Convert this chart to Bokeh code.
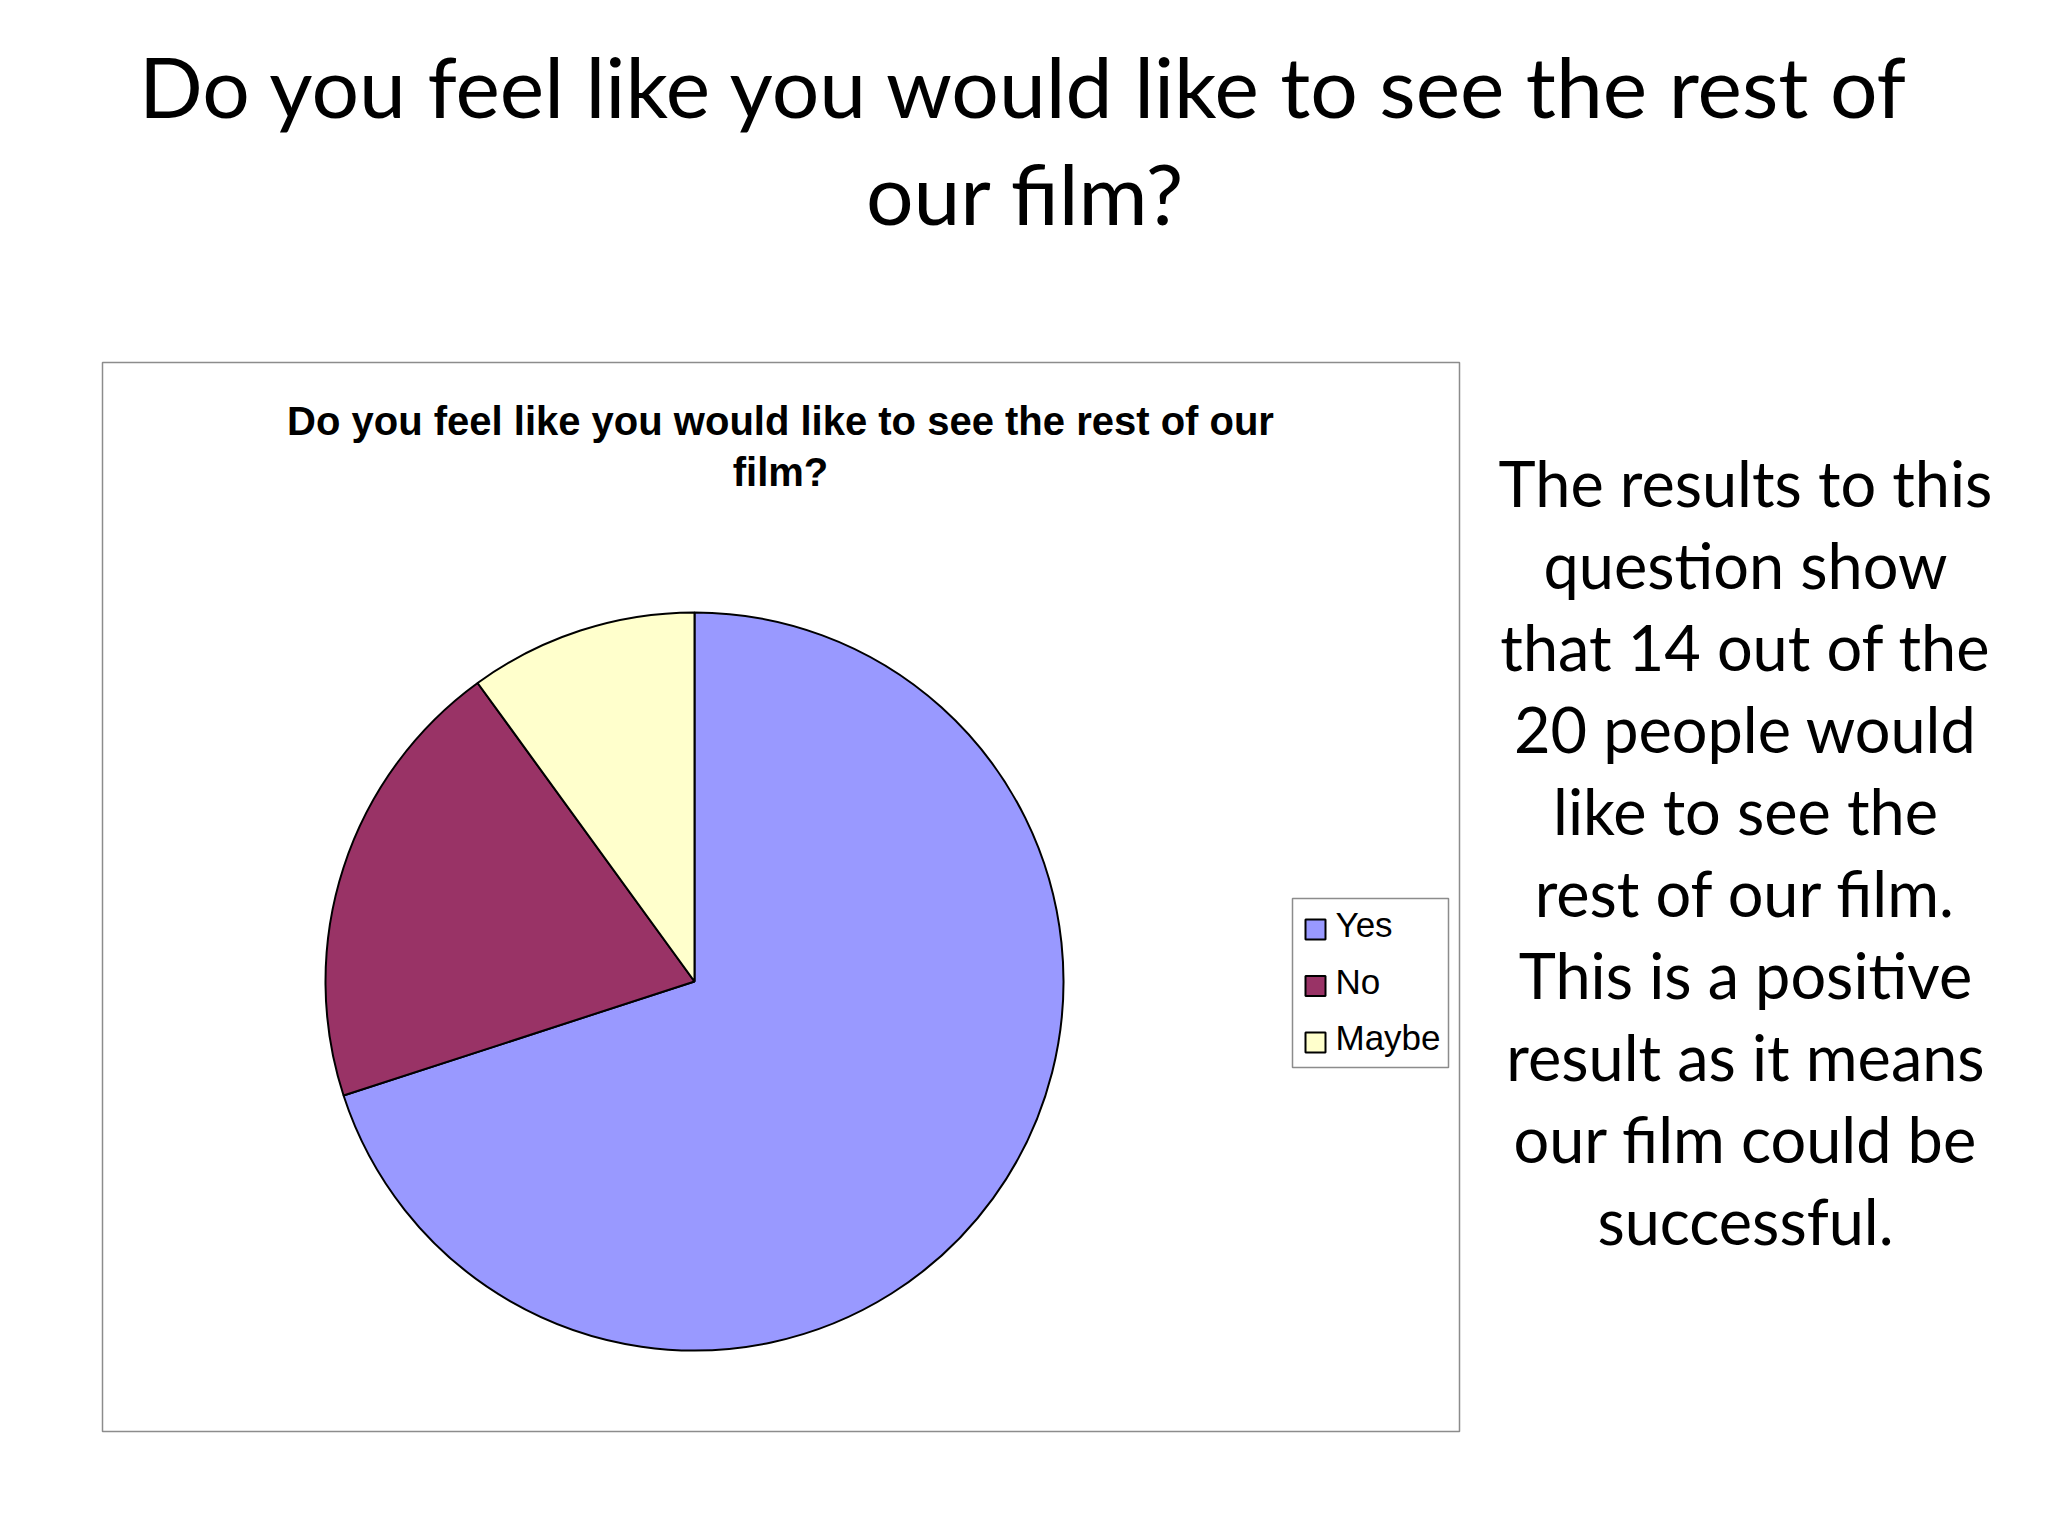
import math
from bokeh.plotting import figure
from bokeh.models import Range1d, ColumnDataSource
from bokeh.core.properties import value
from bokeh.embed import file_html
from bokeh.resources import INLINE

# ---- data ----
categories = ["Yes", "No", "Maybe"]
counts = [14, 4, 2]
colors = ["#9999FF", "#993366", "#FFFFCC"]

title_lines = ["Do you feel like you would like to see the rest of", "our film?"]
chart_title_lines = ["Do you feel like you would like to see the rest of our", "film?"]
note_lines = ["The results to this", "question show", "that 14 out of the",
              "20 people would", "like to see the", "rest of our film.",
              "This is a positive", "result as it means", "our film could be",
              "successful."]

H = 1536
def Y(y):
    return H - y

def BY(y, fs, k):
    # baseline correction for rendered text
    return H - (y - k * fs)

p = figure(width=2032, height=1520, x_range=Range1d(0, 2032), y_range=Range1d(16, 1536),
           output_backend="svg", toolbar_location=None, min_border=0)
p.axis.visible = False
p.grid.visible = False
p.outline_line_color = None
p.background_fill_color = "white"
p.border_fill_color = "white"

# Slide title
TFS = 84
p.text(x=[1025] * len(title_lines), y=[BY(119 + 107 * i, TFS, 0.4) for i in range(len(title_lines))],
       text=title_lines, text_font=value("Lato"), text_font_size=f"{TFS}px",
       text_align="center", text_baseline="alphabetic", text_color="black")

# Chart box
p.quad(left=[102], right=[1459], top=[Y(362)], bottom=[Y(1431)],
       fill_color="white", line_color="#8c8c8c", line_width=1.5)

# Chart title
CFS = 40
p.text(x=[780] * len(chart_title_lines), y=[BY(435 + 51 * i, CFS, 0.37) for i in range(len(chart_title_lines))],
       text=chart_title_lines, text_font=value("Liberation Sans"), text_font_style="bold",
       text_font_size=f"{CFS}px", text_align="center", text_baseline="alphabetic", text_color="black")

# Pie
total = sum(counts)
starts, ends = [], []
acc = 0.0
for c in counts:
    a0 = math.pi / 2 - 2 * math.pi * acc / total
    acc += c
    a1 = math.pi / 2 - 2 * math.pi * acc / total
    starts.append(a0)
    ends.append(a1)
src = ColumnDataSource(dict(cat=categories, val=counts, color=colors, start=starts, end=ends))
p.wedge(x=694, y=Y(981), radius=369, start_angle="start", end_angle="end", direction="clock",
        fill_color="color", line_color="black", line_width=2, source=src)

# Legend
p.quad(left=[1292], right=[1448], top=[Y(898)], bottom=[Y(1067)],
       fill_color="white", line_color="#8c8c8c", line_width=1.5)
n = len(categories)
p.quad(left=[1305] * n, right=[1325] * n,
       top=[Y(919 + 56.5 * i) for i in range(n)], bottom=[Y(939 + 56.5 * i) for i in range(n)],
       fill_color=colors, line_color="black", line_width=2)
LFS = 35
p.text(x=[1335] * n, y=[BY(937 + 56.5 * i, LFS, 0.37) for i in range(n)], text=categories,
       text_font=value("Liberation Sans"), text_font_size=f"{LFS}px",
       text_align="left", text_baseline="alphabetic", text_color="black")

# Right-hand note
NFS = 63
p.text(x=[1745] * len(note_lines), y=[BY(507 + 82 * i, NFS, 0.4) for i in range(len(note_lines))],
       text=note_lines, text_font=value("Lato"), text_font_size=f"{NFS}px",
       text_align="center", text_baseline="alphabetic", text_color="black")

open("out.html", "w").write(file_html(p, INLINE))
